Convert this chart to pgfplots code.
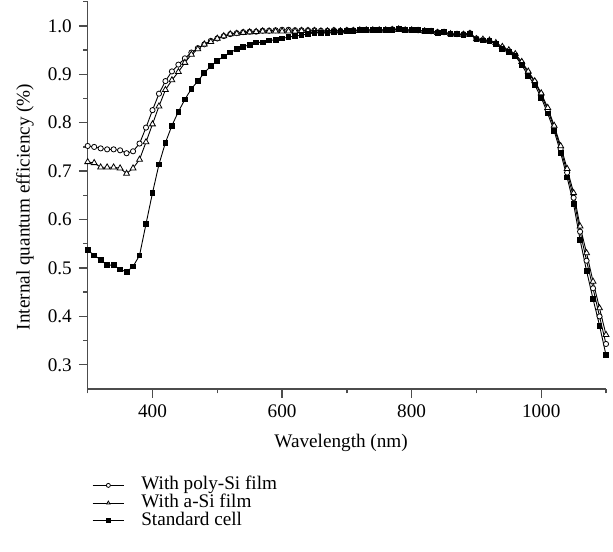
\documentclass[border=0pt]{standalone}
\usepackage{pgfplots}
\usepackage{pgfplotstable}
\pgfplotsset{compat=1.18}
\usepackage{fontspec}
\setmainfont{Liberation Serif}

\pgfplotstableread{
x S P A
300 0.537 0.752 0.719
310 0.526 0.750 0.717
320 0.517 0.747 0.708
330 0.506 0.745 0.708
340 0.506 0.745 0.708
350 0.497 0.743 0.706
360 0.492 0.737 0.695
370 0.503 0.741 0.706
380 0.526 0.757 0.724
390 0.591 0.790 0.760
400 0.655 0.826 0.797
410 0.714 0.860 0.834
420 0.759 0.886 0.868
430 0.794 0.906 0.888
440 0.823 0.920 0.905
450 0.848 0.933 0.924
460 0.870 0.945 0.941
470 0.886 0.954 0.952
480 0.903 0.962 0.962
490 0.917 0.969 0.967
500 0.928 0.974 0.974
510 0.937 0.979 0.979
520 0.945 0.983 0.983
530 0.952 0.985 0.984
540 0.957 0.987 0.986
550 0.961 0.988 0.987
560 0.966 0.988 0.988
570 0.966 0.990 0.989
580 0.970 0.990 0.989
590 0.971 0.991 0.989
600 0.974 0.992 0.989
610 0.977 0.992 0.989
620 0.979 0.991 0.989
630 0.981 0.991 0.990
640 0.983 0.991 0.990
650 0.986 0.991 0.990
660 0.986 0.990 0.989
670 0.986 0.990 0.989
680 0.988 0.991 0.990
690 0.987 0.990 0.989
700 0.990 0.991 0.990
710 0.989 0.991 0.990
720 0.991 0.992 0.991
730 0.991 0.992 0.991
740 0.991 0.992 0.991
750 0.991 0.992 0.991
760 0.991 0.992 0.991
770 0.992 0.993 0.992
780 0.994 0.994 0.993
790 0.991 0.992 0.991
800 0.991 0.992 0.991
810 0.991 0.991 0.990
820 0.989 0.990 0.989
830 0.989 0.989 0.988
840 0.986 0.987 0.986
850 0.987 0.987 0.986
860 0.983 0.984 0.983
870 0.983 0.983 0.982
880 0.982 0.983 0.982
890 0.983 0.985 0.984
900 0.972 0.974 0.973
910 0.970 0.971 0.972
920 0.969 0.969 0.970
930 0.962 0.963 0.965
940 0.953 0.955 0.957
950 0.946 0.948 0.950
960 0.938 0.940 0.942
970 0.919 0.923 0.926
980 0.897 0.903 0.906
990 0.878 0.884 0.886
1000 0.852 0.858 0.861
1010 0.819 0.826 0.831
1020 0.783 0.790 0.794
1030 0.738 0.746 0.752
1040 0.687 0.697 0.705
1050 0.632 0.645 0.655
1060 0.558 0.575 0.586
1070 0.494 0.515 0.531
1080 0.436 0.458 0.472
1090 0.381 0.400 0.417
1100 0.320 0.343 0.362
}\datatable

\begin{document}
\begin{tikzpicture}
\begin{axis}[
  name=ax,
  scale only axis,
  width=259.15pt, height=193.65pt,
  xmin=300, xmax=1100, ymin=0.25, ymax=1.05,
  axis x line=bottom, axis y line=left,
  axis line style={black!70, line width=0.7pt, -},
  tick style={black!70, line width=0.7pt},
  tick align=outside,
  major tick length=4.4pt, minor tick length=2.2pt,
  xtick={400,600,800,1000},
  minor xtick={300,500,700,900,1100},
  xticklabel style={/pgf/number format/.cd, set thousands separator={}},
  ytick={0.3,0.4,...,1.0},
  minor ytick={0.35,0.45,...,1.05},
  yticklabel style={/pgf/number format/.cd, fixed, fixed zerofill, precision=1},
  /pgf/number format/assume math mode=true,
  every tick label/.append style={font=\fontsize{9.6}{11}\selectfont},
  label style={font=\fontsize{9.6}{11}\selectfont},
  xlabel={Wavelength (nm)},
  ylabel={Internal quantum efficiency (\%)},
  xlabel style={at={(axis description cs:0.489,-0.1394)}, anchor=center},
  ylabel style={at={(axis description cs:-0.121,0.470)}, anchor=center},
  legend style={at={(axis description cs:0.0077,-0.225)}, anchor=north west,
    draw=none, fill=none, inner sep=0pt, row sep=0pt, column sep=0pt,
    font=\fontsize{9.6}{11}\selectfont,
    nodes={inner ysep=0pt, inner xsep=0pt, text height=6.6pt, text depth=2.25pt}},
  legend cell align=left,
  legend image code/.code={\draw[#1, mark repeat=2, mark phase=2, mark size=1pt] plot coordinates {(0pt,0pt) (7.9pt,0pt) (15.8pt,0pt)}; \path (24.15pt,0pt);},
]
\addplot[black, line width=0.45pt, mark=*, mark size=1.3pt, mark options={fill=white, line width=0.4pt}] table[x=x, y=P] {\datatable};
\addlegendentry{With poly-Si film}
\addplot[black, line width=0.45pt, mark=triangle*, mark size=1.7pt, mark options={fill=white, line width=0.4pt}] table[x=x, y=A] {\datatable};
\addlegendentry{With a-Si film}
\addplot[black, line width=0.45pt, mark=square*, mark size=1.2pt, mark options={fill=black}] table[x=x, y=S] {\datatable};
\addlegendentry{Standard cell}
\end{axis}
\pgfresetboundingbox
\path ([xshift=-43.85pt, yshift=-81.5pt]ax.south west) rectangle ([xshift=3.5pt, yshift=0.85pt]ax.north east);
\end{tikzpicture}
\end{document}
